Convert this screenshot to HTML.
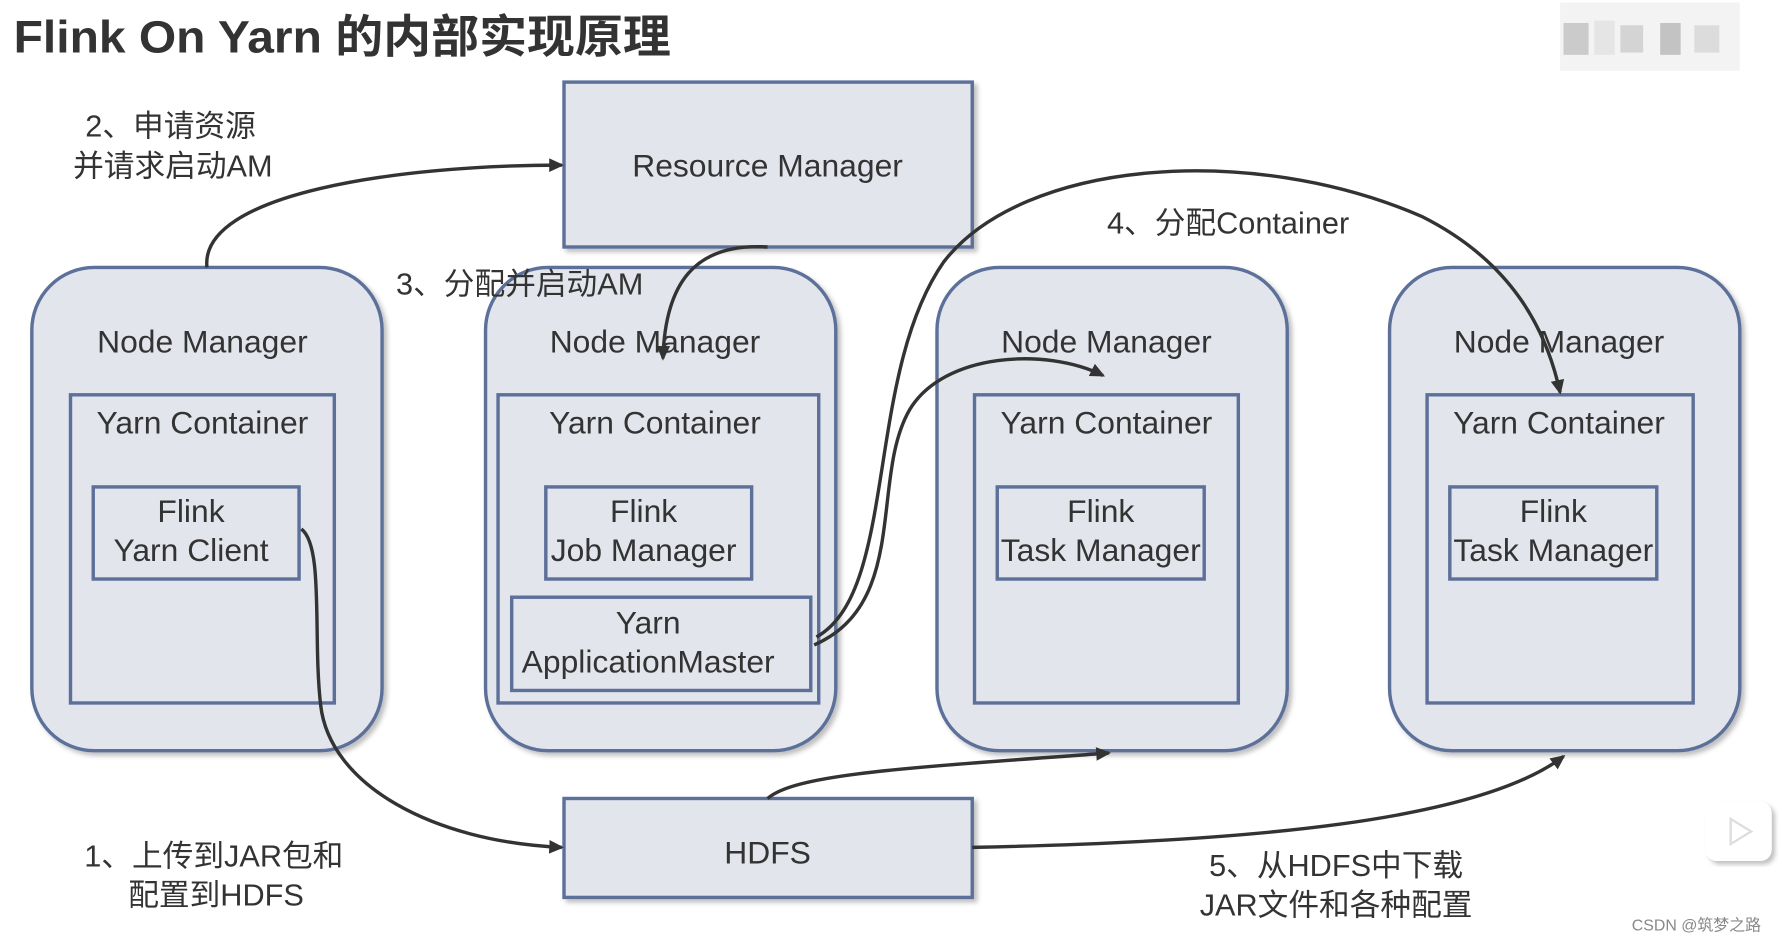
<!DOCTYPE html>
<html><head><meta charset="utf-8">
<style>
html,body{margin:0;padding:0;background:#fff;width:1783px;height:942px;overflow:hidden}
svg{display:block}
text{font-family:"Liberation Sans","Noto Sans CJK SC",sans-serif;fill:#333}
</style></head><body>
<svg width="1783" height="942" viewBox="0 0 1568 828" xmlns="http://www.w3.org/2000/svg">
<defs>
<marker id="a" markerWidth="14" markerHeight="14" refX="11" refY="6" orient="auto" markerUnits="userSpaceOnUse">
<path d="M0,0 L13,6 L0,12 Z" fill="#333"/></marker>
<filter id="s" x="-5%" y="-5%" width="115%" height="115%"><feDropShadow dx="3" dy="3" stdDeviation="2" flood-color="#000" flood-opacity="0.25"/></filter>
</defs>
<text x="12" y="46" font-size="40" font-weight="bold" fill="#444" textLength="578" lengthAdjust="spacingAndGlyphs">Flink On Yarn 的内部实现原理</text>
<g opacity="0.5">
<rect x="1372" y="2" width="158" height="60" fill="#e8e8e8"/>
<rect x="1375" y="20" width="22" height="28" fill="#999"/><rect x="1402" y="18" width="18" height="30" fill="#ccc"/>
<rect x="1425" y="22" width="20" height="24" fill="#aaa"/><rect x="1460" y="20" width="18" height="28" fill="#888"/>
<rect x="1490" y="22" width="22" height="24" fill="#bbb"/>
</g>
<g fill="#e3e5ec" stroke="#5b6f9a" stroke-width="3" filter="url(#s)">
<rect x="496" y="72" width="359" height="145"/>
<rect x="28" y="235" width="308" height="425" rx="55"/>
<rect x="427" y="235" width="308" height="425" rx="55"/>
<rect x="824" y="235" width="308" height="425" rx="55"/>
<rect x="1222" y="235" width="308" height="425" rx="55"/>
<rect x="62" y="347" width="232" height="271"/>
<rect x="438" y="347" width="282" height="271"/>
<rect x="857" y="347" width="232" height="271"/>
<rect x="1255" y="347" width="234" height="271"/>
<rect x="82" y="428" width="181" height="81"/>
<rect x="480" y="428" width="181" height="81"/>
<rect x="450" y="525" width="263" height="82"/>
<rect x="877" y="428" width="182" height="81"/>
<rect x="1275" y="428" width="182" height="81"/>
<rect x="496" y="702" width="359" height="87"/>
</g>
<g font-size="28" text-anchor="middle">
<text x="675" y="155">Resource Manager</text>
<text x="178" y="310">Node Manager</text><text x="576" y="310">Node Manager</text>
<text x="973" y="310">Node Manager</text><text x="1371" y="310">Node Manager</text>
<text x="178" y="381">Yarn Container</text><text x="576" y="381">Yarn Container</text>
<text x="973" y="381">Yarn Container</text><text x="1371" y="381">Yarn Container</text>
<text x="168" y="459">Flink</text><text x="168" y="493">Yarn Client</text>
<text x="566" y="459">Flink</text><text x="566" y="493">Job Manager</text>
<text x="570" y="557">Yarn</text><text x="570" y="591">ApplicationMaster</text>
<text x="968" y="459">Flink</text><text x="968" y="493">Task Manager</text>
<text x="1366" y="459">Flink</text><text x="1366" y="493">Task Manager</text>
<text x="675" y="759">HDFS</text>
</g>
<g font-size="27" text-anchor="middle">
<text x="150" y="120">2、申请资源</text><text x="152" y="155">并请求启动AM</text>
<text x="457" y="259">3、分配并启动AM</text>
<text x="1080" y="205">4、分配Container</text>
<text x="188" y="762">1、上传到JAR包和</text><text x="190" y="796">配置到HDFS</text>
<text x="1175" y="770">5、从HDFS中下载</text><text x="1175" y="805">JAR文件和各种配置</text>
</g>
<g fill="none" stroke="#333" stroke-width="3" marker-end="url(#a)">
<path d="M182,235 C175,170 350,145 494,145"/>
<path d="M675,217 C610,213 585,250 583,315"/>
<path d="M716,567 C800,530 765,420 800,360 C830,310 920,305 970,330"/>
<path d="M718,560 C790,520 760,330 830,230 C900,140 1100,125 1250,190 C1330,230 1360,290 1372,345"/>
<path d="M265,465 C285,480 275,560 282,620 C290,690 380,740 494,745"/>
<path d="M675,702 C700,680 800,675 975,662"/>
<path d="M855,745 C1100,740 1300,722 1375,665"/>
</g>
<rect x="1500" y="705" width="58" height="52" rx="10" fill="#fff" filter="url(#s)"/>
<path d="M1522,720 L1540,731 L1522,742 Z" fill="none" stroke="#ddd" stroke-width="2"/>
<text x="1435" y="818" font-size="14" fill="#888" style="fill:#888">CSDN @筑梦之路</text>
</svg>
</body></html>
